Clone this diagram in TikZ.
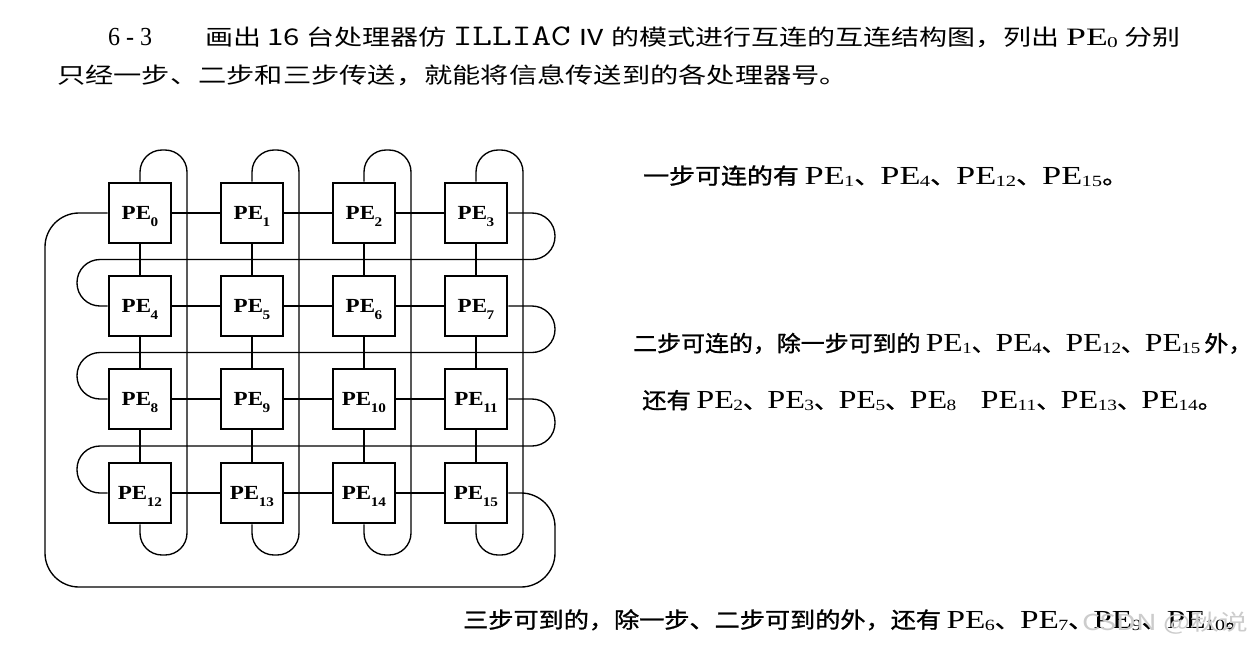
\documentclass[tikz,border=0pt]{standalone}
\usepackage{fontspec}
\usepackage{graphicx}
\setmainfont{Liberation Serif}
\newfontfamily\cjk{Noto Sans CJK SC}
\newfontfamily\cjkm{Noto Sans CJK SC}[FakeBold=1.2]
\newfontfamily\boxfont{Liberation Serif}[FakeStretch=1.15]
\newfontfamily\pefont{Liberation Serif}[FakeStretch=1.12]
\newcommand\PEb[1]{PE\kern-0.02em\raisebox{-0.36em}{\scalebox{0.66}{#1}}}
\newcommand\PEt[1]{PE\kern-0.02em\raisebox{-0.08em}{\scalebox{0.6}{#1}}}
\newcommand\tPE[1]{{\pefont\fontsize{26}{26}\selectfont\PEt{#1}}}
\newcommand\fitw[2]{\resizebox{#1pt}{\height}{#2}}
\newcommand\myzh{\cjk\fontsize{22}{22}\selectfont}
\newcommand\myzhb{\cjkm\fontsize{22}{22}\selectfont}
\newcommand\mymono{\ttfamily\fontsize{30}{30}\selectfont}
\begin{document}
\begin{tikzpicture}[x=1pt,y=-1pt,
  pebox/.style={draw, line width=2.8pt, minimum width=62pt, minimum height=60pt,
    inner sep=0pt, text height=13pt, text depth=0pt,
    font={\boxfont\bfseries\fontsize{20}{20}\selectfont}},
  conn/.style={line width=1.35pt},
  txt/.style={anchor=base west, inner sep=0pt}]
\fill[white] (0,0) rectangle (1254,651);
\useasboundingbox (0,0) rectangle (1254,651);

% processing elements
\foreach \r [count=\ri from 0] in {213,306,399,493}{
  \foreach \c [count=\ci from 0] in {140,252,364,476}{
    \pgfmathtruncatemacro\n{4*\ri+\ci}
    \node[pebox] (p\n) at (\c,\r) {\PEb{\n}};
  }
}
% row neighbours
\foreach \a in {0,1,2,4,5,6,8,9,10,12,13,14}{
  \pgfmathtruncatemacro\b{\a+1}
  \draw[conn] (p\a.east) -- (p\b.west);
}
% column neighbours
\foreach \a in {0,...,11}{
  \pgfmathtruncatemacro\b{\a+4}
  \draw[conn] (p\a.south) -- (p\b.north);
}
% column wrap loops
\foreach \j/\c in {0/140,1/252,2/364,3/476}{
  \pgfmathtruncatemacro\k{\j+12}
  \pgfmathsetmacro\cr{\c+47}
  \draw[conn,rounded corners=22pt] (p\j.north) -- (\c,150) -- (\cr,150)
     -- (\cr,555) -- (\c,555) -- (p\k.south);
}
% row wrap loops
\foreach \a/\ya/\ym/\yb in {3/213/259.5/306,7/306/352.5/399,11/399/446/493}{
  \pgfmathtruncatemacro\b{\a+1}
  \draw[conn,rounded corners=23pt] (p\a.east) -- (555,\ya) -- (555,\ym)
     -- (77,\ym) -- (77,\yb) -- (p\b.west);
}
% PE15 -> PE0
\draw[conn,rounded corners=34pt] (p15.east) -- (555,493) -- (555,587)
   -- (45,587) -- (45,213) -- (p0.west);

% texts
\node[txt] (t1a) at (108,45.5) {\fitw{44}{\fontsize{26}{26}\selectfont 6 - 3}};
\node[txt] (t1b) at (205,45.5) {\fitw{975}{\myzh 画出 {\fontsize{23}{23}\selectfont 16} 台处理器仿 {\mymono ILLIAC} Ⅳ 的模式进行互连的互连结构图，列出 {\pefont\fontsize{25}{25}\selectfont\PEt{0}} 分别}};
\node[txt] (t2) at (57,83.5) {\fitw{791}{\myzh 只经一步、二步和三步传送，就能将信息传送到的各处理器号。}};
\node[txt] (a1) at (643,184) {\fitw{485}{\myzhb 一步可连的有 \tPE{1}、\tPE{4}、\tPE{12}、\tPE{15}。}};
\node[txt] (a2) at (633,351.5) {\fitw{619}{\myzhb 二步可连的，除一步可到的 \tPE{1}、\tPE{4}、\tPE{12}、\tPE{15}\,外，}};
\node[txt] (a3) at (642,408.5) {\fitw{580}{\myzhb 还有 \tPE{2}、\tPE{3}、\tPE{5}、\tPE{8}　\tPE{11}、\tPE{13}、\tPE{14}。}};
\node[txt] (a4) at (463,628) {\fitw{787}{\myzhb 三步可到的，除一步、二步可到的外，还有 \tPE{6}、\tPE{7}、\tPE{9}、\tPE{10}。}};
\node[txt, text=gray!40] (wm) at (1082,630) {\fitw{166}{\myzh CSDN @秋说}};
\end{tikzpicture}
\end{document}
